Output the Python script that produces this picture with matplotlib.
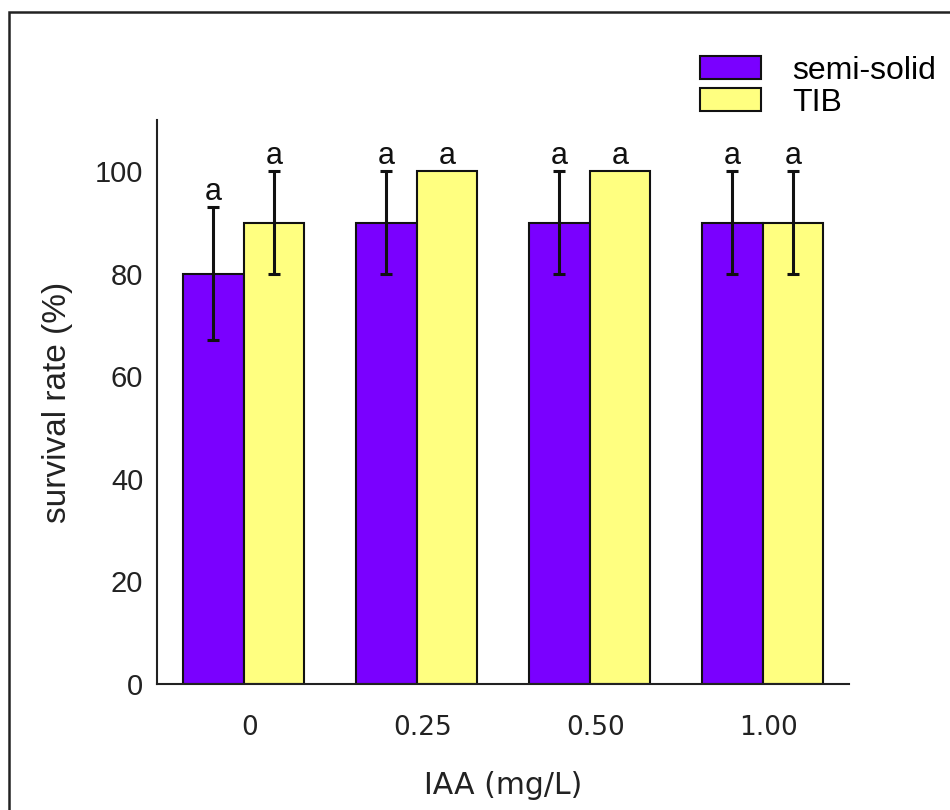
import matplotlib
matplotlib.use("Agg")
import matplotlib.pyplot as plt
import matplotlib.transforms as mtransforms
from matplotlib.patches import Rectangle
import numpy as np

PURPLE = "#7a00ff"
YELLOW = "#ffff80"
EDGE = "#111111"

# data
doses = ["0", "0.25", "0.50", "1.00"]
semi_solid = [80, 90, 90, 90]
semi_solid_err = [13, 10, 10, 10]
tib = [90, 100, 100, 90]
tib_err = [10, 0, 0, 10]
semi_letters = ["a", "a", "a", "a"]
tib_letters = ["a", "a", "a", "a"]

fig = plt.figure(figsize=(9.5, 8.1), dpi=100)
ax = fig.add_axes([0.1653, 0.1556, 0.7284, 0.6963])

x = np.arange(len(doses))
w = 0.35

ax.bar(x - w / 2, semi_solid, w, color=PURPLE, edgecolor=EDGE, linewidth=1.5,
       label="semi-solid", zorder=2)
ax.bar(x + w / 2, tib, w, color=YELLOW, edgecolor=EDGE, linewidth=1.5,
       label="TIB", zorder=2)

# error bars only where there is an error
for xs, vals, errs in [(x - w / 2, semi_solid, semi_solid_err), (x + w / 2, tib, tib_err)]:
    for xi, v, e in zip(xs, vals, errs):
        if e > 0:
            ax.errorbar(xi, v, yerr=e, fmt="none", ecolor=EDGE, elinewidth=2.2,
                        capsize=4.3, capthick=2.2, zorder=3)

# significance letters
for xs, vals, errs, letters in [(x - w / 2, semi_solid, semi_solid_err, semi_letters),
                                (x + w / 2, tib, tib_err, tib_letters)]:
    for xi, v, e, lt in zip(xs, vals, errs, letters):
        ax.annotate(lt, (xi, v + e), xytext=(0, 5), textcoords="offset points",
                    ha="center", va="baseline", fontsize=22,
                    family="Liberation Sans", color="#111111")

ax.set_xlim(-0.5, 3.5)
ax.set_ylim(0, 110)
ax.set_yticks([0, 20, 40, 60, 80, 100])
ax.set_xticks(x)
ax.set_xticklabels(doses, fontsize=19, family="DejaVu Sans", color="#222222")
for lab in ax.get_yticklabels():
    lab.set_family("Liberation Sans")
    lab.set_fontsize(21)
    lab.set_color("#222222")
ax.tick_params(axis="both", length=0)
ax.tick_params(axis="x", pad=22)
ax.tick_params(axis="y", pad=10)
shift = mtransforms.ScaledTranslation(6 / 100, 0, fig.dpi_scale_trans)
for lab in ax.get_xticklabels():
    lab.set_transform(lab.get_transform() + shift)

ax.set_xlabel("IAA (mg/L)", fontsize=21.5, family="DejaVu Sans", color="#222222",
              labelpad=22)
ax.set_ylabel("survival rate (%)", fontsize=24, family="Liberation Sans",
              color="#222222", labelpad=16)

ax.spines["top"].set_visible(False)
ax.spines["right"].set_visible(False)
ax.spines["left"].set_linewidth(1.5)
ax.spines["bottom"].set_linewidth(1.5)
ax.spines["left"].set_color("#222222")
ax.spines["bottom"].set_color("#222222")

leg = ax.legend(loc="upper left", bbox_to_anchor=(700 / 950, 1 - 56 / 810),
                bbox_transform=fig.transFigure, frameon=False,
                prop={"family": "Liberation Sans", "size": 23},
                handlelength=1.9, handleheight=0.72, labelspacing=0.06,
                handletextpad=1.0, borderpad=0, borderaxespad=0)

# outer frame of the picture
fig.add_artist(Rectangle((9 / 950, -0.2), 1.5, 0.2 + 1 - 12 / 810,
                         transform=fig.transFigure, fill=False,
                         edgecolor="#222222", linewidth=1.8))

fig.savefig("out.png", dpi=100)
